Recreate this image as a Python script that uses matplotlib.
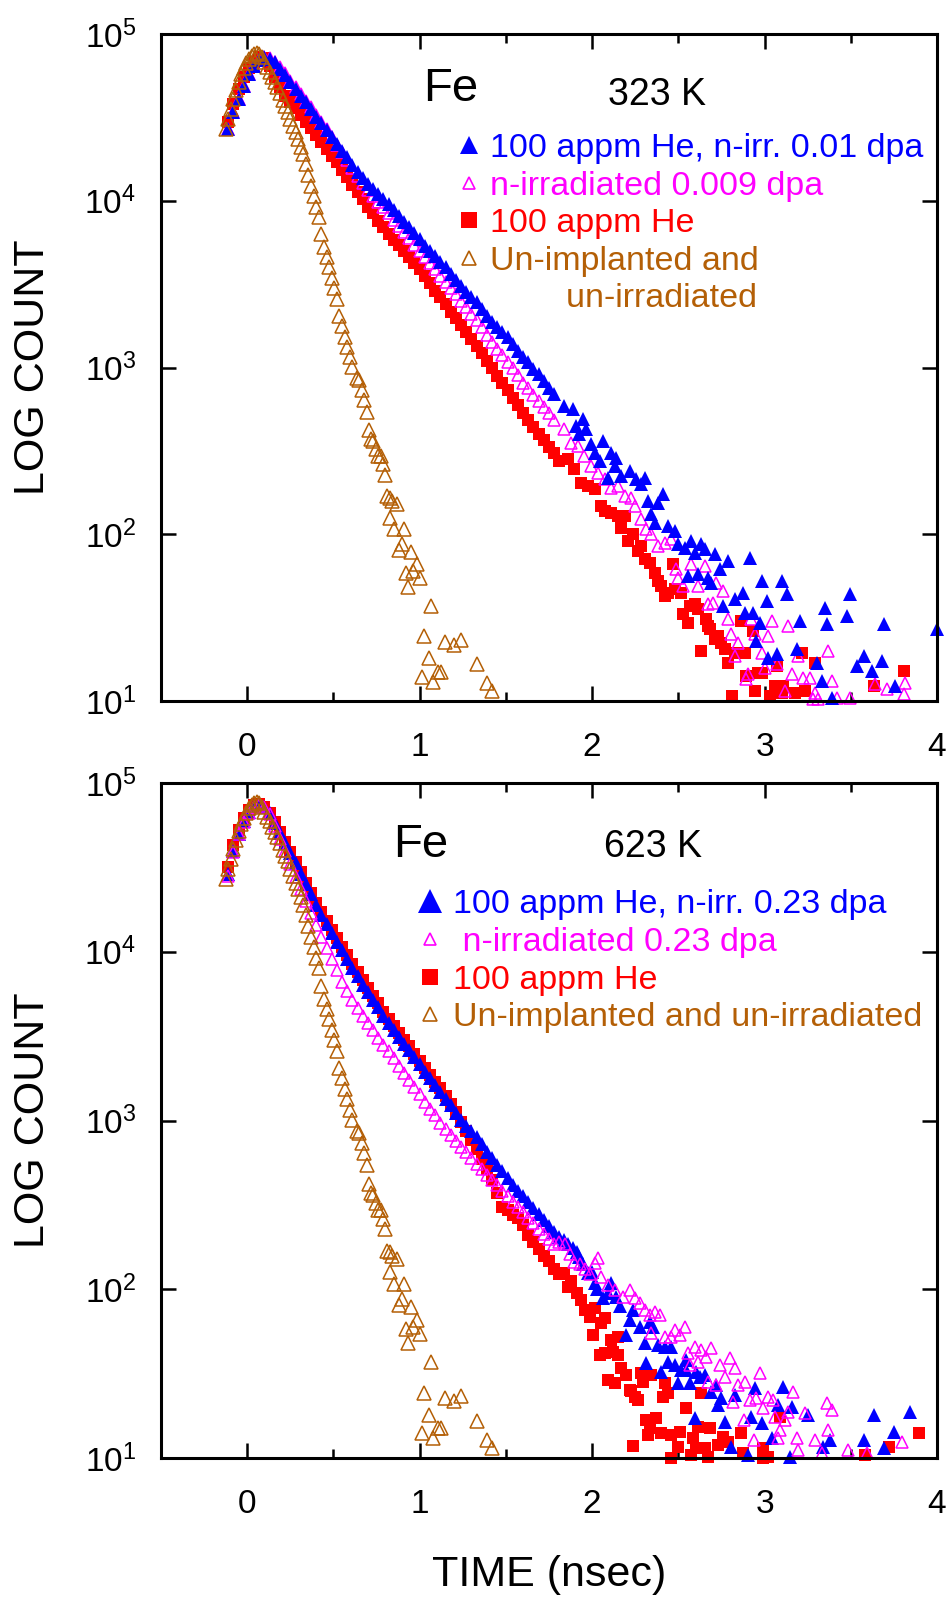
import numpy as np
import matplotlib
matplotlib.use("Agg")
import matplotlib.pyplot as plt
from matplotlib.lines import Line2D
from matplotlib.ticker import MultipleLocator, FixedLocator, FixedFormatter, NullLocator

plt.rcParams['font.family'] = ['Liberation Sans', 'DejaVu Sans']
plt.rcParams['mathtext.fontset'] = 'custom'
plt.rcParams['mathtext.rm'] = 'Liberation Sans'
plt.rcParams['mathtext.it'] = 'Liberation Sans:italic'
plt.rcParams['mathtext.bf'] = 'Liberation Sans:bold'

# ---------------- data (time in ns, values are log10 of counts) ----------------
t_grid = [-0.11, -0.08, -0.05, -0.02, 0.01, 0.04, 0.07, 0.10, 0.13, 0.16,
          0.19, 0.22, 0.25, 0.28, 0.31, 0.34, 0.37, 0.40, 0.43, 0.46,
          0.49, 0.52, 0.55, 0.58, 0.61, 0.64, 0.67, 0.70, 0.73, 0.76,
          0.79, 0.82, 0.85, 0.88, 0.91, 0.94, 0.97, 1.00, 1.03, 1.06,
          1.09, 1.12, 1.15, 1.18, 1.21, 1.24, 1.27, 1.30, 1.33, 1.36,
          1.39, 1.42, 1.45, 1.48, 1.51, 1.54, 1.57, 1.60, 1.63, 1.66,
          1.69, 1.72, 1.75, 1.78]

# 323 K panel
blue_323_dense = [4.43, 4.535, 4.61, 4.69, 4.76, 4.81, 4.845, 4.86, 4.85, 4.83,
                  4.79, 4.755, 4.71, 4.67, 4.63, 4.59, 4.55, 4.505, 4.465, 4.425,
                  4.38, 4.34, 4.30, 4.26, 4.215, 4.175, 4.135, 4.10, 4.07, 4.04,
                  4.01, 3.98, 3.945, 3.91, 3.875, 3.84, 3.805, 3.77, 3.73, 3.70,
                  3.67, 3.63, 3.60, 3.56, 3.525, 3.49, 3.455, 3.42, 3.39, 3.35,
                  3.31, 3.27, 3.24, 3.21, 3.18, 3.14, 3.10, 3.06, 3.03, 2.99,
                  2.96, 2.92, 2.88, 2.84]
blue_323_tail = [(1.839, 2.769), (1.888, 2.749), (1.946, 2.689), (1.907, 2.649), (1.965, 2.629),
                 (1.926, 2.599), (1.994, 2.539), (2.062, 2.559), (2.014, 2.489), (2.11, 2.489),
                 (2.14, 2.459), (2.043, 2.439), (2.13, 2.409), (2.091, 2.339), (2.169, 2.349),
                 (2.217, 2.379), (2.256, 2.329), (2.304, 2.339), (2.285, 2.299), (2.324, 2.20),
                 (2.382, 2.19), (2.411, 2.24), (2.343, 2.12), (2.362, 2.07), (2.44, 2.05),
                 (2.479, 2.02), (2.498, 1.94), (2.537, 1.92), (2.576, 1.96), (2.634, 1.94),
                 (2.595, 1.89), (2.653, 1.91), (2.556, 1.75), (2.614, 1.76), (2.672, 1.74),
                 (2.711, 1.88), (2.74, 1.79), (2.789, 1.84), (2.692, 1.71), (2.76, 1.57),
                 (2.828, 1.61), (2.876, 1.65), (2.886, 1.53), (2.915, 1.86), (2.934, 1.53),
                 (2.973, 1.47), (2.953, 1.36), (2.983, 1.72), (3.012, 1.60), (3.099, 1.72),
                 (3.128, 1.64), (3.021, 1.26), (3.07, 1.28), (3.186, 1.31), (3.205, 1.48),
                 (3.302, 1.23), (3.351, 1.56), (3.36, 1.46), (3.331, 1.12), (3.39, 1.02),
                 (3.477, 1.51), (3.496, 1.64), (3.535, 1.21), (3.574, 1.27), (3.622, 1.18),
                 (3.68, 1.24), (3.69, 1.46), (3.758, 1.09), (4.0, 1.43)]

magenta_323_dense = [4.43, 4.535, 4.61, 4.69, 4.76, 4.81, 4.845, 4.865, 4.855, 4.835,
                     4.80, 4.765, 4.72, 4.68, 4.64, 4.60, 4.56, 4.515, 4.47, 4.43,
                     4.38, 4.335, 4.29, 4.245, 4.195, 4.15, 4.105, 4.065, 4.03, 3.995,
                     3.96, 3.925, 3.885, 3.85, 3.81, 3.775, 3.735, 3.70, 3.66, 3.625,
                     3.59, 3.55, 3.515, 3.475, 3.44, 3.40, 3.36, 3.32, 3.285, 3.24,
                     3.195, 3.15, 3.11, 3.075, 3.035, 2.995, 2.955, 2.91, 2.875, 2.835,
                     2.80, 2.765, 2.725, 2.685]
magenta_323_tail = [(1.839, 2.629), (1.878, 2.549), (1.917, 2.529), (1.955, 2.469), (1.994, 2.409),
                    (2.033, 2.369), (2.072, 2.329), (2.11, 2.279), (2.149, 2.289), (2.188, 2.23),
                    (2.227, 2.22), (2.246, 2.17), (2.285, 2.09), (2.314, 2.03), (2.343, 2.0),
                    (2.382, 1.93), (2.421, 1.95), (2.459, 1.97), (2.488, 1.79), (2.498, 1.74),
                    (2.527, 1.69), (2.576, 1.82), (2.614, 1.69), (2.653, 1.81), (2.672, 1.58),
                    (2.702, 1.59), (2.721, 1.71), (2.76, 1.66), (2.789, 1.49), (2.808, 1.40),
                    (2.828, 1.27), (2.847, 1.35), (2.895, 1.13), (2.905, 1.16), (2.924, 1.49),
                    (2.944, 1.40), (2.983, 1.29), (3.002, 1.20), (3.021, 1.39), (3.041, 1.48),
                    (3.07, 1.22), (3.118, 1.06), (3.138, 1.45), (3.157, 1.16), (3.196, 1.27),
                    (3.225, 1.14), (3.264, 1.14), (3.293, 1.05), (3.283, 1.01), (3.312, 1.01),
                    (3.37, 1.30), (3.39, 1.12), (3.419, 1.02), (3.496, 1.02), (3.642, 1.10),
                    (3.71, 1.07), (3.816, 1.11), (3.806, 1.04)]

red_323_dense = [4.47, 4.58, 4.67, 4.74, 4.795, 4.835, 4.86, 4.855, 4.81, 4.745,
                 4.68, 4.63, 4.59, 4.555, 4.515, 4.475, 4.435, 4.395, 4.355, 4.31,
                 4.27, 4.23, 4.185, 4.14, 4.095, 4.055, 4.01, 3.965, 3.925, 3.88,
                 3.84, 3.80, 3.765, 3.735, 3.70, 3.665, 3.625, 3.59, 3.55, 3.505,
                 3.46, 3.42, 3.38, 3.335, 3.295, 3.255, 3.21, 3.17, 3.13, 3.085,
                 3.04, 2.995, 2.95, 2.905, 2.865, 2.82, 2.775, 2.73, 2.685, 2.645,
                 2.60, 2.565, 2.525, 2.485]
red_323_tail = [(1.81, 2.44), (1.859, 2.449), (1.897, 2.39), (1.936, 2.309), (1.975, 2.29),
                (2.014, 2.27), (2.052, 2.17), (2.072, 2.14), (2.11, 2.13), (2.149, 2.11),
                (2.169, 2.04), (2.188, 2.11), (2.207, 1.96), (2.236, 2.0), (2.266, 1.90),
                (2.285, 1.93), (2.304, 1.85), (2.333, 1.83), (2.362, 1.77), (2.382, 1.72),
                (2.401, 1.69), (2.421, 1.63), (2.44, 1.65), (2.469, 1.82), (2.479, 1.67),
                (2.517, 1.65), (2.527, 1.52), (2.556, 1.47), (2.566, 1.57), (2.595, 1.58),
                (2.614, 1.55), (2.634, 1.30), (2.663, 1.49), (2.672, 1.45), (2.682, 1.43),
                (2.711, 1.37), (2.731, 1.39), (2.75, 1.35), (2.77, 1.31), (2.789, 1.23),
                (2.812, 1.03), (2.828, 1.29), (2.866, 1.48), (2.886, 1.29), (2.895, 1.15),
                (2.934, 1.42), (2.944, 1.06), (2.963, 1.17), (2.983, 1.17), (3.031, 1.03),
                (3.06, 1.09), (3.07, 1.21), (3.099, 1.05), (3.109, 1.09), (3.176, 1.05),
                (3.215, 1.29), (3.234, 1.06), (3.293, 1.23), (3.632, 1.09), (3.806, 1.18)]

# 623 K panel
blue_623_dense = [4.46, 4.60, 4.70, 4.775, 4.83, 4.865, 4.875, 4.86, 4.825, 4.765,
                  4.705, 4.645, 4.585, 4.525, 4.46, 4.40, 4.34, 4.28, 4.22, 4.165,
                  4.11, 4.06, 4.01, 3.96, 3.905, 3.855, 3.805, 3.76, 3.715, 3.67,
                  3.62, 3.575, 3.535, 3.495, 3.455, 3.415, 3.375, 3.335, 3.29, 3.25,
                  3.21, 3.17, 3.13, 3.09, 3.045, 3.005, 2.97, 2.935, 2.90, 2.86,
                  2.815, 2.775, 2.735, 2.70, 2.66, 2.62, 2.585, 2.55, 2.515, 2.48,
                  2.445, 2.41, 2.375, 2.34]
blue_623_tail = [(1.81, 2.31), (1.839, 2.292), (1.86, 2.27), (1.888, 2.243), (1.91, 2.22),
                 (1.926, 2.193), (1.95, 2.15), (1.975, 2.095), (2.0, 2.10), (2.014, 2.035),
                 (2.03, 2.0), (2.062, 1.946), (2.09, 1.98), (2.11, 2.035), (2.14, 1.956),
                 (2.16, 1.90), (2.198, 1.729), (2.217, 1.818), (2.236, 1.877), (2.275, 1.778),
                 (2.304, 1.679), (2.314, 1.561), (2.333, 1.808), (2.353, 1.778), (2.382, 1.67),
                 (2.401, 1.511), (2.421, 1.66), (2.44, 1.571), (2.459, 1.66), (2.479, 1.551),
                 (2.498, 1.443), (2.517, 1.521), (2.547, 1.521), (2.547, 1.581), (2.566, 1.443),
                 (2.595, 1.235), (2.605, 1.511), (2.624, 1.482), (2.653, 1.492), (2.692, 1.393),
                 (2.721, 1.433), (2.731, 1.314), (2.75, 1.354), (2.769, 1.215), (2.808, 1.067),
                 (2.828, 1.373), (2.905, 1.018), (2.924, 1.245), (2.944, 1.413), (2.983, 1.205),
                 (3.041, 1.117), (3.08, 1.314), (3.109, 1.423), (3.147, 1.008), (3.157, 1.304),
                 (3.25, 1.255), (3.341, 1.067), (3.38, 1.107), (3.574, 1.107), (3.632, 1.255),
                 (3.69, 1.058), (3.748, 1.156), (3.845, 1.274)]

magenta_623_dense = [4.45, 4.59, 4.695, 4.77, 4.825, 4.86, 4.87, 4.855, 4.815, 4.745,
                     4.67, 4.595, 4.52, 4.445, 4.37, 4.30, 4.23, 4.16, 4.09, 4.02,
                     3.955, 3.89, 3.82, 3.765, 3.715, 3.665, 3.62, 3.575, 3.535, 3.49,
                     3.45, 3.41, 3.37, 3.325, 3.28, 3.24, 3.20, 3.155, 3.11, 3.07,
                     3.03, 2.985, 2.95, 2.915, 2.88, 2.845, 2.815, 2.78, 2.745, 2.715,
                     2.68, 2.65, 2.615, 2.585, 2.55, 2.52, 2.49, 2.455, 2.425, 2.395,
                     2.36, 2.33, 2.30, 2.27]
magenta_623_tail = [(1.81, 2.28), (1.84, 2.27), (1.87, 2.21), (1.897, 2.163), (1.93, 2.15),
                    (1.96, 2.12), (1.99, 2.09), (2.014, 2.153), (2.034, 2.183), (2.052, 2.074),
                    (2.091, 2.025), (2.13, 1.996), (2.178, 1.956), (2.217, 1.996), (2.246, 1.946),
                    (2.275, 1.917), (2.304, 1.877), (2.333, 1.847), (2.343, 1.739), (2.362, 1.867),
                    (2.392, 1.847), (2.421, 1.719), (2.459, 1.719), (2.479, 1.758), (2.508, 1.729),
                    (2.537, 1.778), (2.556, 1.62), (2.566, 1.551), (2.595, 1.66), (2.614, 1.571),
                    (2.634, 1.64), (2.663, 1.60), (2.672, 1.452), (2.692, 1.65), (2.721, 1.433),
                    (2.74, 1.551), (2.769, 1.482), (2.798, 1.59), (2.818, 1.334), (2.828, 1.531),
                    (2.847, 1.433), (2.878, 1.225), (2.886, 1.452), (2.915, 1.344), (2.936, 1.107),
                    (2.953, 1.354), (2.973, 1.502), (2.992, 1.294), (3.021, 1.363), (3.05, 1.344),
                    (3.06, 1.245), (3.08, 1.117), (3.089, 1.166), (3.118, 1.225), (3.137, 1.274),
                    (3.167, 1.393), (3.186, 1.117), (3.196, 1.047), (3.234, 1.265), (3.293, 1.107),
                    (3.331, 1.028), (3.36, 1.324), (3.37, 1.166), (3.389, 1.284), (3.486, 1.047),
                    (3.593, 1.028), (3.797, 1.097)]

red_623_dense = [4.50, 4.63, 4.72, 4.79, 4.84, 4.87, 4.875, 4.86, 4.825, 4.77,
                 4.71, 4.65, 4.59, 4.53, 4.47, 4.41, 4.35, 4.29, 4.235, 4.18,
                 4.13, 4.08, 4.03, 3.98, 3.93, 3.88, 3.83, 3.785, 3.74, 3.695,
                 3.645, 3.60, 3.56, 3.52, 3.48, 3.44, 3.395, 3.355, 3.31, 3.27,
                 3.23, 3.19, 3.145, 3.10, 3.05, 2.99, 2.94, 2.885, 2.83, 2.77,
                 2.71, 2.65, 2.57, 2.49, 2.47, 2.44, 2.42, 2.38, 2.32, 2.28,
                 2.24, 2.20, 2.17, 2.12]
red_623_tail = [(1.81, 2.09), (1.839, 2.095), (1.859, 2.015), (1.88, 2.05), (1.91, 1.976),
                (1.936, 1.936), (1.956, 1.877), (1.985, 1.837), (2.004, 1.729), (2.014, 1.887),
                (2.043, 1.61), (2.052, 1.798), (2.072, 1.827), (2.072, 1.62), (2.091, 1.462),
                (2.11, 1.699), (2.12, 1.63), (2.13, 1.443), (2.149, 1.719), (2.149, 1.61),
                (2.169, 1.531), (2.198, 1.492), (2.217, 1.403), (2.227, 1.40), (2.236, 1.07),
                (2.246, 1.363), (2.265, 1.344), (2.285, 1.502), (2.294, 1.452), (2.314, 1.225),
                (2.324, 1.136), (2.333, 1.176), (2.343, 1.492), (2.372, 1.235), (2.401, 1.146),
                (2.41, 1.36), (2.421, 1.443), (2.44, 1.383), (2.459, 1.136), (2.459, 1.0),
                (2.498, 1.067), (2.508, 1.156), (2.547, 1.294), (2.576, 1.018), (2.585, 1.117),
                (2.605, 1.057), (2.614, 1.186), (2.634, 1.383), (2.653, 1.057), (2.672, 1.008),
                (2.682, 1.176), (2.731, 1.077), (2.76, 1.126), (2.789, 1.097), (2.866, 1.146),
                (2.876, 1.028), (2.992, 1.057), (2.992, 1.0), (3.021, 1.008), (3.089, 1.245),
                (3.583, 1.018), (3.719, 1.067), (3.894, 1.146)]

# un-implanted, un-irradiated reference (same spectrum in both panels)
brown_ref = [(-0.125, 4.43), (-0.11, 4.49), (-0.095, 4.55), (-0.08, 4.61), (-0.065, 4.665),
             (-0.05, 4.715), (-0.035, 4.76), (-0.02, 4.795), (-0.005, 4.825), (0.01, 4.85),
             (0.025, 4.87), (0.04, 4.88), (0.055, 4.885), (0.07, 4.88), (0.085, 4.86),
             (0.10, 4.83), (0.115, 4.80), (0.13, 4.775), (0.145, 4.74), (0.16, 4.71),
             (0.175, 4.68), (0.19, 4.645), (0.205, 4.605), (0.22, 4.57), (0.235, 4.535),
             (0.25, 4.49), (0.265, 4.45), (0.28, 4.41), (0.295, 4.37), (0.31, 4.325),
             (0.325, 4.28), (0.34, 4.22), (0.355, 4.155), (0.37, 4.09), (0.385, 4.03),
             (0.40, 3.965), (0.415, 3.905), (0.43, 3.80), (0.445, 3.72), (0.46, 3.66),
             (0.475, 3.60), (0.49, 3.535), (0.505, 3.475), (0.52, 3.41), (0.535, 3.31),
             (0.55, 3.25), (0.565, 3.185), (0.58, 3.125), (0.595, 3.06), (0.61, 3.005),
             (0.634, 2.938), (0.649, 2.924), (0.663, 2.868), (0.678, 2.808), (0.692, 2.735),
             (0.705, 2.623), (0.715, 2.573), (0.729, 2.559), (0.744, 2.509), (0.758, 2.469),
             (0.773, 2.469), (0.787, 2.419), (0.798, 2.355), (0.812, 2.229), (0.828, 2.22),
             (0.841, 2.2), (0.866, 2.18), (0.828, 2.1), (0.851, 2.034), (0.909, 2.034),
             (0.895, 1.944), (0.88, 1.906), (0.948, 1.894), (0.987, 1.82), (0.963, 1.777),
             (0.919, 1.765), (1.002, 1.737), (0.932, 1.684), (1.068, 1.571), (1.027, 1.387),
             (1.147, 1.355), (1.2, 1.337), (1.242, 1.367), (1.054, 1.257), (1.016, 1.146),
             (1.08, 1.116), (1.109, 1.176), (1.122, 1.176), (1.335, 1.222), (1.39, 1.108),
             (1.417, 1.062)]

x_ticks = [0, 1, 2, 3, 4]
x_tick_labels = ['0', '1', '2', '3', '4']
y_ticks = [1e1, 1e2, 1e3, 1e4, 1e5]
y_tick_labels = ['$10^{1}$', '$10^{2}$', '$10^{3}$', '$10^{4}$', '$10^{5}$']

labels_323 = ['100 appm He, n-irr. 0.01 dpa', 'n-irradiated 0.009 dpa', '100 appm He',
              'Un-implanted and', '        un-irradiated']
labels_623 = ['100 appm He, n-irr. 0.23 dpa', ' n-irradiated 0.23 dpa', '100 appm He',
              'Un-implanted and un-irradiated']

# ---------------- styling ----------------
BLUE = '#0000ff'
MAGENTA = '#ff00ff'
RED = '#ff0000'
BROWN = '#b45f06'

blue_style = dict(marker='^', ms=10, mfc=BLUE, mec=BLUE, mew=0)
magenta_style = dict(marker='^', ms=9, mfc='none', mec=MAGENTA, mew=1.1)
red_style = dict(marker='s', ms=9, mfc=RED, mec=RED, mew=0)
brown_style = dict(marker='^', ms=9.5, mfc='none', mec=BROWN, mew=1.1)


def series(dense, tail):
    assert len(dense) == len(t_grid)
    t = list(t_grid) + [p[0] for p in tail]
    v = list(dense) + [p[1] for p in tail]
    return np.array(t), 10.0 ** np.array(v)


def pairs(lst):
    return np.array([p[0] for p in lst]), 10.0 ** np.array([p[1] for p in lst])


def style_axes(ax):
    ax.set_yscale('log')
    ax.set_xlim(-0.5, 4.0)
    ax.set_ylim(10, 1e5)
    ax.xaxis.set_major_locator(FixedLocator(x_ticks))
    ax.xaxis.set_major_formatter(FixedFormatter(x_tick_labels))
    ax.xaxis.set_minor_locator(MultipleLocator(0.5))
    ax.yaxis.set_major_locator(FixedLocator(y_ticks))
    ax.yaxis.set_major_formatter(FixedFormatter(y_tick_labels))
    ax.yaxis.set_minor_locator(NullLocator())
    ax.tick_params(which='both', direction='in', top=True, right=True, width=1.8, colors='black')
    ax.tick_params(which='major', length=10.5, labelsize=24)
    ax.tick_params(which='minor', length=6.5)
    ax.tick_params(axis='x', which='major', pad=22)
    ax.tick_params(axis='y', which='major', pad=18)
    for s in ax.spines.values():
        s.set_linewidth(2.2)
    ax.set_ylabel('LOG COUNT', fontsize=31)
    ax.yaxis.set_label_coords(-0.165, 0.5)
    ax.yaxis.label.set_verticalalignment('center')


fig = plt.figure(figsize=(9.51, 16), dpi=100)
ax1 = fig.add_axes([161 / 951, 1 - 701 / 1600, 776 / 951, 667 / 1600])
ax2 = fig.add_axes([161 / 951, 1 - 1458 / 1600, 776 / 951, 675 / 1600])

# top panel (323 K): red, magenta, blue, brown
t, c = series(red_323_dense, red_323_tail)
ax1.plot(t, c, ls='none', clip_on=False, **red_style)
t, c = series(magenta_323_dense, magenta_323_tail)
ax1.plot(t, c, ls='none', clip_on=False, **magenta_style)
t, c = series(blue_323_dense, blue_323_tail)
ax1.plot(t, c, ls='none', clip_on=False, **blue_style)
t, c = pairs(brown_ref)
ax1.plot(t, c, ls='none', clip_on=False, **brown_style)

# bottom panel (623 K)
t, c = series(red_623_dense, red_623_tail)
ax2.plot(t, c, ls='none', clip_on=False, **red_style)
t, c = series(blue_623_dense, blue_623_tail)
ax2.plot(t, c, ls='none', clip_on=False, **blue_style)
t, c = series(magenta_623_dense, magenta_623_tail)
ax2.plot(t, c, ls='none', clip_on=False, **magenta_style)
t, c = pairs(brown_ref)
ax2.plot(t, c, ls='none', clip_on=False, **brown_style)

for ax in (ax1, ax2):
    style_axes(ax)

ax2.set_xlabel('TIME (nsec)', fontsize=31)
ax2.xaxis.set_label_coords(0.5, -0.174)
ax2.xaxis.label.set_verticalalignment('center')

# annotations
ax1.text(0.3376, 0.8996, 'Fe', transform=ax1.transAxes, fontsize=34, va='baseline', ha='left')
ax1.text(0.576, 0.8936, '323 K', transform=ax1.transAxes, fontsize=27, va='baseline', ha='left')
ax2.text(0.299, 0.8904, 'Fe', transform=ax2.transAxes, fontsize=34, va='baseline', ha='left')
ax2.text(0.571, 0.8904, '623 K', transform=ax2.transAxes, fontsize=27, va='baseline', ha='left')

# legends
h_top = [Line2D([], [], ls='none', marker='^', ms=13, mfc=BLUE, mec=BLUE, mew=0),
         Line2D([], [], ls='none', marker='^', ms=9, mfc='none', mec=MAGENTA, mew=1.2),
         Line2D([], [], ls='none', marker='s', ms=12, mfc=RED, mec=RED, mew=0),
         Line2D([], [], ls='none', marker='^', ms=10, mfc='none', mec=BROWN, mew=1.2),
         Line2D([], [], ls='none', marker=None)]
leg1 = ax1.legend(h_top, labels_323, loc='upper left', bbox_to_anchor=(0.3744, 0.851),
                  frameon=False, fontsize=24.5, handlelength=1.0, handletextpad=0.12,
                  labelspacing=0.19, borderpad=0, borderaxespad=0)
for txt, col in zip(leg1.get_texts(), [BLUE, MAGENTA, RED, BROWN, BROWN]):
    txt.set_color(col)

h_bot = [Line2D([], [], ls='none', marker='^', ms=17, mfc=BLUE, mec=BLUE, mew=0),
         Line2D([], [], ls='none', marker='^', ms=9, mfc='none', mec=MAGENTA, mew=1.2),
         Line2D([], [], ls='none', marker='s', ms=12, mfc=RED, mec=RED, mew=0),
         Line2D([], [], ls='none', marker='^', ms=10, mfc='none', mec=BROWN, mew=1.2)]
leg2 = ax2.legend(h_bot, labels_623, loc='upper left', bbox_to_anchor=(0.3241, 0.843),
                  frameon=False, fontsize=24.5, handlelength=1.0, handletextpad=0.18,
                  labelspacing=0.2, borderpad=0, borderaxespad=0)
for txt, col in zip(leg2.get_texts(), [BLUE, MAGENTA, RED, BROWN]):
    txt.set_color(col)

fig.savefig('out.png', dpi=100)
